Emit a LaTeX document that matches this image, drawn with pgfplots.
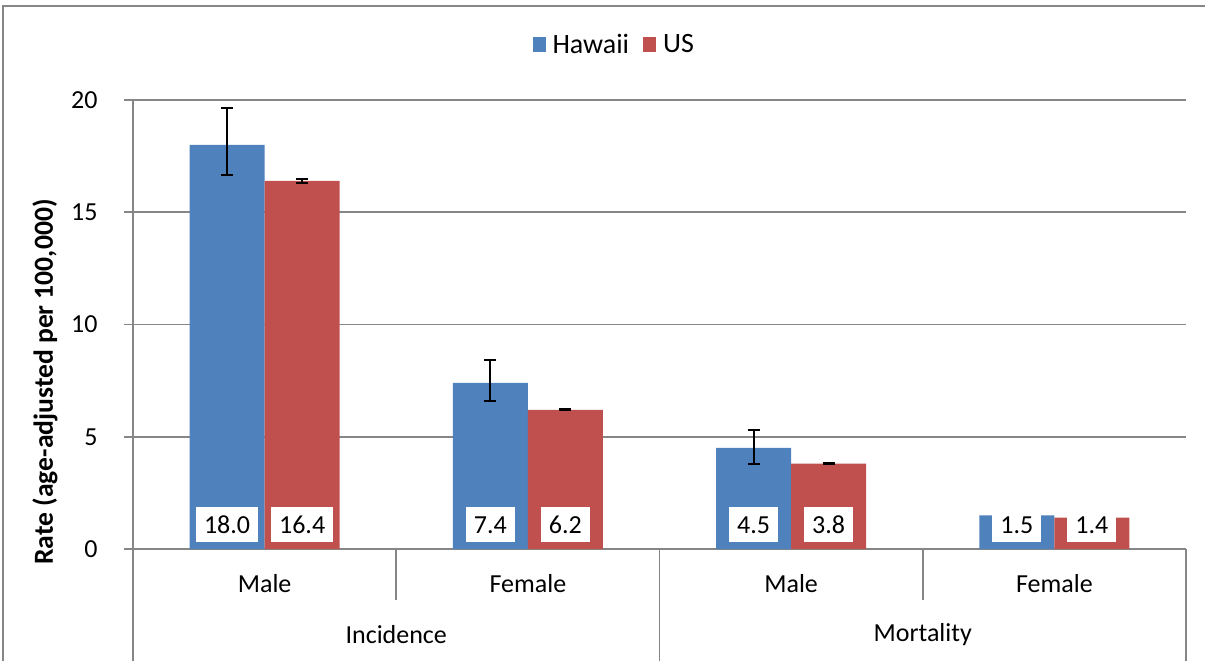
\documentclass[border=0pt]{standalone}
\usepackage{pgfplots}
\pgfplotsset{compat=1.18}
\usepackage{fontspec}
\setmainfont{Carlito}
\definecolor{hawaii}{HTML}{4F81BD}
\definecolor{usred}{HTML}{C0504D}
\definecolor{gridgray}{HTML}{868686}
\begin{document}
\begin{tikzpicture}
\useasboundingbox (0,0) rectangle (602.5pt,330pt);
\begin{axis}[
    at={(66.5pt,55.5pt)}, anchor=south west,
    scale only axis, width=526.5pt, height=224.5pt,
    xmin=-0.5, xmax=3.5, ymin=0, ymax=20,
    ytick={0,5,...,20},
    xtick={0,1,2,3}, xticklabels={Male,Female,Male,Female},
    axis lines=left, axis line style={-, gridgray, line width=0.8pt},
    ymajorgrids, grid style={gridgray, line width=0.8pt},
    tick align=outside, major tick length=4.5pt,
    tick style={gridgray, line width=0.8pt},
    major x tick style={draw=none},
    tick label style={font=\fontsize{13}{15}\selectfont, text=black},
    yticklabel style={inner sep=0pt, xshift=-13pt},
    xticklabel style={inner sep=0pt, anchor=center, yshift=-13pt},
    /pgf/number format/assume math mode=true,
    clip=false,
    bar width=0.285, bar shift=0pt,
    legend columns=2,
    legend style={at={(0.458,1.1225)}, anchor=center, draw=none, fill=none,
        font=\fontsize{14}{16}\selectfont,
        /tikz/every odd column/.append style={column sep=1.5pt},
        /tikz/every even column/.append style={column sep=5pt}},
    legend image code/.code={\fill[#1] (0pt,-3.75pt) rectangle (6.5pt,3.75pt);},
    error bars/error bar style={black, line width=1pt},
    error bars/error mark options={black, rotate=90, mark size=3pt, line width=1pt},
]
\addplot[ybar, fill=hawaii, draw=none,
    error bars/.cd, y dir=both, y explicit]
    coordinates {
    (-0.1425,18.0) += (0,1.65) -= (0,1.35)
    (0.8575,7.4)   += (0,1.0)  -= (0,0.8)
    (1.8575,4.5)   += (0,0.8)  -= (0,0.7)
    (2.8575,1.5)   += (0,0.1)  -= (0,0.1)
    };
\addlegendentry{Hawaii}
\addplot[ybar, fill=usred, draw=none,
    error bars/.cd, y dir=both, y explicit]
    coordinates {
    (0.1425,16.4) += (0,0.1)  -= (0,0.1)
    (1.1425,6.2)  += (0,0.03) -= (0,0.03)
    (2.1425,3.8)  += (0,0.03) -= (0,0.03)
    (3.1425,1.4)  += (0,0.03) -= (0,0.03)
    };
\addlegendentry{US}
% data labels at the bar bases
\addplot[only marks, mark=none, forget plot,
    nodes near coords, point meta=explicit symbolic,
    nodes near coords style={fill=white, anchor=center,
        inner xsep=4pt, inner ysep=0pt, minimum height=17.5pt,
        font=\fontsize{13}{15}\selectfont}]
    coordinates {
    (-0.1425,1.07) [18.0] (0.1425,1.07) [16.4]
    (0.8575,1.07) [7.4]  (1.1425,1.07) [6.2]
    (1.8575,1.07) [4.5]  (2.1425,1.07) [3.8]
    (2.8575,1.07) [1.5]  (3.1425,1.07) [1.4]
    };
% category separators
\draw[gridgray, line width=0.8pt] (axis cs:0.5,0) -- (axis cs:0.5,-2.27);
\draw[gridgray, line width=0.8pt] (axis cs:2.5,0) -- (axis cs:2.5,-2.27);
\draw[gridgray, line width=0.8pt] (axis cs:-0.5,0) -- (axis cs:-0.5,-6);
\draw[gridgray, line width=0.8pt] (axis cs:1.5,0) -- (axis cs:1.5,-6);
\draw[gridgray, line width=0.8pt] (axis cs:3.5,0) -- (axis cs:3.5,-6);
\node[font=\fontsize{13}{15}\selectfont, inner sep=0pt, yshift=-43pt] at (axis cs:0.5,0) {Incidence};
\node[font=\fontsize{13}{15}\selectfont, inner sep=0pt, yshift=-43pt] at (axis cs:2.5,0) {Mortality};
\node[font=\bfseries\fontsize{13.8}{16}\selectfont, inner sep=0pt, rotate=90]
    at (axis cs:-0.834,7.44) {Rate (age-adjusted per 100,000)};
\end{axis}
\draw[gridgray, line width=0.8pt] (1.5pt,-5pt) -- (1.5pt,327pt) -- (610pt,327pt);
\end{tikzpicture}
\end{document}
